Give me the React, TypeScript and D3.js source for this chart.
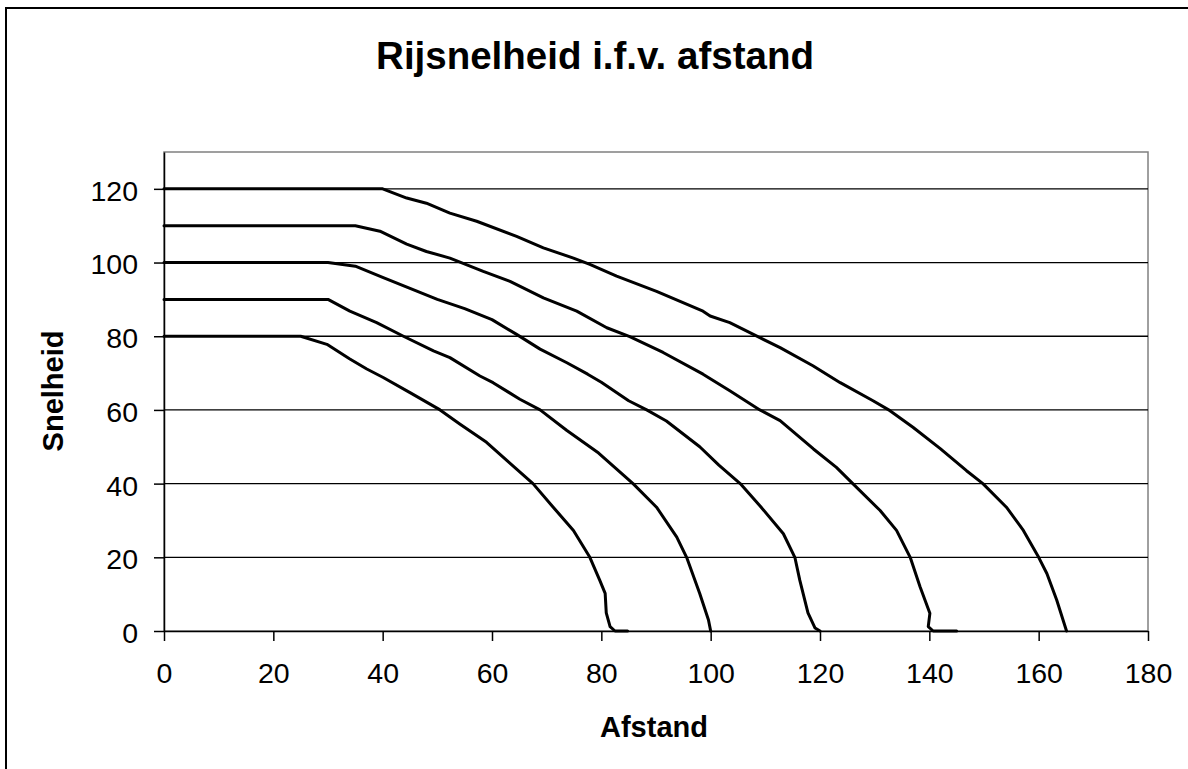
import { useEffect, useRef } from "react";
import * as d3 from "d3";

const WIDTH = 1188;
const HEIGHT = 769;
const MARGIN = { top: 152, right: 40, bottom: 138, left: 164 };
const FONT = "'Liberation Sans', Arial, Helvetica, sans-serif";

const TITLE = "Rijsnelheid i.f.v. afstand";
const X_LABEL = "Afstand";
const Y_LABEL = "Snelheid";
const X_TICKS = [0, 20, 40, 60, 80, 100, 120, 140, 160, 180];
const Y_TICKS = [0, 20, 40, 60, 80, 100, 120];

// afstand / snelheid per start speed
const afstand80 = [0, 25, 29.8, 34, 37.1, 40.1, 45, 50.5, 54.1, 59, 62.7, 67.5, 71.2, 74.9, 77.9, 79.7, 80.7, 80.9, 81.6, 82.5, 84.8];
const snelheid80 = [80, 80, 77.8, 73.8, 71.1, 68.8, 64.7, 60, 56.2, 51.2, 46.3, 40, 33.6, 27.3, 20, 13.8, 10.2, 4.9, 1.2, 0, 0];

const afstand90 = [0, 30, 34, 38.9, 43.8, 49.3, 52.3, 57.8, 60.2, 65.1, 68.8, 73.7, 79.5, 85.8, 90.1, 93.8, 95.6, 98, 99.6, 100];
const snelheid90 = [90, 90, 86.8, 83.7, 80, 76, 74.2, 69.2, 67.4, 62.9, 60, 54.4, 48.3, 40, 33.6, 25.5, 20, 10.2, 3, 0];

const afstand100 = [0, 30, 35, 40, 45, 50, 55, 60, 64.5, 68.8, 73.7, 77.5, 80, 85, 88.3, 91.9, 98, 101.5, 105.4, 109, 113.3, 115.4, 116.3, 117.8, 119.1, 120];
const snelheid100 = [100, 100, 99, 96, 93, 90, 87.5, 84.5, 80.5, 76.5, 72.8, 69.7, 67.5, 62.5, 60, 57, 50, 45, 40, 34, 26.4, 20, 13.8, 4.9, 0.8, 0];

const afstand110 = [0, 35, 39.5, 44.4, 48, 52.3, 58.4, 63.3, 69.4, 75.5, 81, 85.2, 91.3, 98.6, 103.5, 109, 112.7, 118.8, 123, 126, 131, 134, 136.5, 138.3, 140.1, 139.8, 140.7, 145];
const snelheid110 = [110, 110, 108.5, 105, 103, 101.2, 97.6, 94.9, 90.4, 86.8, 82.3, 79.9, 75.6, 69.7, 65.2, 60, 57.1, 49.4, 44.4, 40, 32.7, 27.3, 20, 12, 4.8, 1.2, 0, 0];

const afstand120 = [0, 40, 44.4, 48, 52.3, 57.2, 64.5, 69.4, 74.9, 77.9, 82.8, 90.1, 98.6, 99.9, 103.5, 109, 112.7, 118.7, 123.7, 129.7, 132.8, 137, 142, 146.8, 149.8, 154.1, 157.2, 160, 161.5, 163.3, 165.1];
const snelheid120 = [120, 120, 117.5, 116.1, 113.4, 111.2, 107.1, 104, 101.2, 99.5, 96.3, 92.2, 86.8, 85.5, 83.7, 79.6, 76.9, 72, 67.4, 62.5, 59.8, 55.3, 49.5, 43.5, 40, 33.6, 27.3, 20, 15.6, 8.4, 0];

const SERIES = [
  [afstand80, snelheid80],
  [afstand90, snelheid90],
  [afstand100, snelheid100],
  [afstand110, snelheid110],
  [afstand120, snelheid120],
];

export default function App() {
  const svgRef = useRef<SVGSVGElement | null>(null);

  useEffect(() => {
    const svg = d3.select(svgRef.current);
    svg.selectAll("*").remove();

    const left = MARGIN.left;
    const right = WIDTH - MARGIN.right;
    const top = MARGIN.top;
    const bottom = HEIGHT - MARGIN.bottom;

    const x = d3.scaleLinear().domain([0, 180]).range([left, right]);
    const y = d3.scaleLinear().domain([0, 130]).range([bottom, top]);

    svg.append("rect").attr("width", WIDTH).attr("height", HEIGHT).attr("fill", "#ffffff");

    // outer chart border (right / bottom fall outside the picture)
    svg
      .append("rect")
      .attr("x", 6)
      .attr("y", 8)
      .attr("width", WIDTH + 20)
      .attr("height", HEIGHT + 20)
      .attr("fill", "none")
      .attr("stroke", "#000")
      .attr("stroke-width", 2);

    // plot area frame (grey)
    svg
      .append("rect")
      .attr("x", x(0))
      .attr("y", y(130))
      .attr("width", x(180) - x(0))
      .attr("height", y(0) - y(130))
      .attr("fill", "none")
      .attr("stroke", "#808080")
      .attr("stroke-width", 1.5);

    // gridlines
    svg
      .append("g")
      .selectAll("line")
      .data(Y_TICKS.filter((d) => d > 0))
      .join("line")
      .attr("x1", x(0))
      .attr("x2", x(180))
      .attr("y1", (d) => y(d))
      .attr("y2", (d) => y(d))
      .attr("stroke", "#000")
      .attr("stroke-width", 1.3);

    // x axis
    const xAxis = svg
      .append("g")
      .attr("transform", `translate(0, ${y(0)})`)
      .call(d3.axisBottom(x).tickValues(X_TICKS).tickSize(10).tickPadding(22).tickSizeOuter(0));
    xAxis.select(".domain").attr("stroke", "#000").attr("stroke-width", 1.5);
    xAxis.selectAll("line").attr("stroke", "#000").attr("stroke-width", 1.5);
    xAxis
      .selectAll("text")
      .attr("fill", "#000")
      .attr("font-family", FONT)
      .attr("font-size", 28.5);

    // y axis
    const yAxis = svg
      .append("g")
      .attr("transform", `translate(${x(0)}, 0)`)
      .call(d3.axisLeft(y).tickValues(Y_TICKS).tickSize(10).tickPadding(16).tickSizeOuter(0));
    yAxis.select(".domain").attr("stroke", "#000").attr("stroke-width", 1.5);
    yAxis.selectAll("line").attr("stroke", "#000").attr("stroke-width", 1.5);
    yAxis
      .selectAll("text")
      .attr("fill", "#000")
      .attr("font-family", FONT)
      .attr("font-size", 28.5)
      .attr("dy", "0.4em");

    // curves
    SERIES.forEach(([afstand, snelheid]) => {
      const points: [number, number][] = afstand.map((d, i) => [x(d), y(snelheid[i])]);
      svg
        .append("path")
        .attr("d", d3.line()(points))
        .attr("fill", "none")
        .attr("stroke", "#000")
        .attr("stroke-width", 3)
        .attr("stroke-linejoin", "round")
        .attr("stroke-linecap", "round");
    });

    svg
      .append("text")
      .attr("x", 595)
      .attr("y", 69)
      .attr("text-anchor", "middle")
      .attr("font-family", FONT)
      .attr("font-weight", 700)
      .attr("font-size", 38.5)
      .text(TITLE);

    svg
      .append("text")
      .attr("x", 654)
      .attr("y", 737)
      .attr("text-anchor", "middle")
      .attr("font-family", FONT)
      .attr("font-weight", 700)
      .attr("font-size", 29)
      .text(X_LABEL);

    svg
      .append("text")
      .attr("transform", `translate(63, 391) rotate(-90)`)
      .attr("text-anchor", "middle")
      .attr("font-family", FONT)
      .attr("font-weight", 700)
      .attr("font-size", 29)
      .text(Y_LABEL);
  }, []);

  return (
    <svg
      ref={svgRef}
      width={WIDTH}
      height={HEIGHT}
      style={{ position: "absolute", left: 0, top: 0, display: "block" }}
    />
  );
}
